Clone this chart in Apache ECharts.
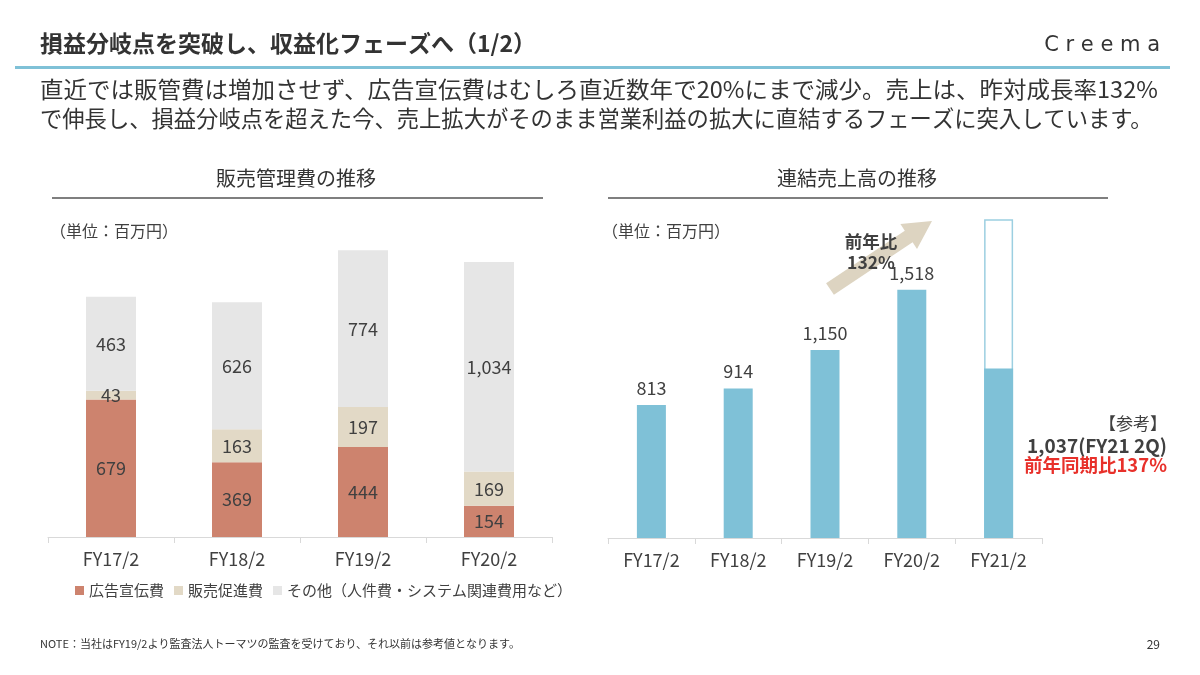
<!DOCTYPE html>
<html><head><meta charset="utf-8">
<script src="https://cdn.jsdelivr.net/npm/echarts@6/dist/echarts.min.js"></script>
<style>html,body{margin:0;padding:0;background:#fff}#c{width:1200px;height:675px}</style>
</head><body><div id="c"></div>
<script>
const FONT = '"Noto Sans CJK JP","Noto Sans",sans-serif';
const sgaCategories = ['FY17/2','FY18/2','FY19/2','FY20/2'];
const adValues = [679, 369, 444, 154];
const promoValues = [43, 163, 197, 169];
const otherValues = [463, 626, 774, 1034];
const salesCategories = ['FY17/2','FY18/2','FY19/2','FY20/2','FY21/2'];
const salesValues = [813, 914, 1150, 1518, 1037];
const salesFrame = [null, null, null, null, 1950];
const legendNames = ['広告宣伝費','販売促進費','その他（人件費・システム関連費用など）'];

const chart = echarts.init(document.getElementById('c'), null, {renderer:'canvas'});
const fmt = p => p.value.toLocaleString('en-US');
const labelStyle = {show:true, position:'inside', color:'#404040', fontSize:18, fontFamily:FONT, formatter:fmt};
const axisX = (idx, data) => ({
  type:'category', gridIndex:idx, data:data,
  axisLine:{lineStyle:{color:'#d9d9d9', width:1}},
  axisTick:{show:true, length:6, lineStyle:{color:'#d9d9d9'}},
  axisLabel:{color:'#404040', fontSize:18, fontFamily:FONT, margin:13}
});
const axisY = (idx, max) => ({type:'value', gridIndex:idx, min:0, max:max, show:false, splitLine:{show:false}});

chart.setOption({
  animation:false,
  backgroundColor:'#fff',
  textStyle:{fontFamily:FONT},
  grid:[
    {left:48, right:648, top:233, bottom:138},
    {left:608, right:158, top:211, bottom:137}
  ],
  xAxis:[axisX(0, sgaCategories), axisX(1, salesCategories)],
  yAxis:[axisY(0, 1500), axisY(1, 2000)],
  legend:{
    data:legendNames, left:70, top:578, itemWidth:9, itemHeight:9, itemGap:10,
    icon:'rect', textStyle:{color:'#404040', fontSize:15, fontFamily:FONT}
  },
  series:[
    {name:legendNames[0], type:'bar', stack:'s', xAxisIndex:0, yAxisIndex:0, barWidth:50,
     data:adValues, itemStyle:{color:'#CD836E'}, label:labelStyle},
    {name:legendNames[1], type:'bar', stack:'s', xAxisIndex:0, yAxisIndex:0, barWidth:50,
     data:promoValues, itemStyle:{color:'#E2D9C6'}, label:labelStyle},
    {name:legendNames[2], type:'bar', stack:'s', xAxisIndex:0, yAxisIndex:0, barWidth:50,
     data:otherValues, itemStyle:{color:'#E6E6E6'}, label:labelStyle},
    {name:'frame', type:'bar', xAxisIndex:1, yAxisIndex:1, barWidth:29, barGap:'-100%', z:1,
     data:salesFrame, itemStyle:{color:'#ffffff', borderColor:'#9ccfe1', borderWidth:1.5}, silent:true},
    {name:'sales', type:'bar', xAxisIndex:1, yAxisIndex:1, barWidth:29, z:2,
     data:salesValues, itemStyle:{color:'#7FC1D7'},
     label:{show:true, position:'top', distance:8, color:'#404040', fontSize:18, fontFamily:FONT,
       formatter:p => p.dataIndex === 4 ? '' : fmt(p)}}
  ],
  graphic:[
    {type:'text', left:40, top:32, style:{text:'損益分岐点を突破し、収益化フェーズへ（1/2）', fontSize:23, fontWeight:'bold', fill:'#333', fontFamily:FONT}},
    {type:'text', right:40, top:35, style:{text:'C r e e m a', fontSize:21, fill:'#333', fontFamily:'"DejaVu Sans",sans-serif'}},
    {type:'rect', shape:{x:15, y:66, width:1155, height:3}, style:{fill:'#7FC1D7'}},
    {type:'text', x:40, y:78, scaleX:1.05, style:{text:'直近では販管費は増加させず、広告宣伝費はむしろ直近数年で20%にまで減少。売上は、昨対成長率132%', fontSize:22.4, fill:'#333', fontFamily:FONT}},
    {type:'text', left:40, top:107, style:{text:'で伸長し、損益分岐点を超えた今、売上拡大がそのまま営業利益の拡大に直結するフェーズに突入しています。', fontSize:22.3, fill:'#333', fontFamily:FONT}},
    {type:'text', x:296, y:178, style:{text:'販売管理費の推移', fontSize:20, fill:'#333', fontFamily:FONT, align:'center', verticalAlign:'middle'}},
    {type:'rect', shape:{x:52, y:197, width:491, height:2}, style:{fill:'#7f7f7f'}},
    {type:'text', x:857, y:178, style:{text:'連結売上高の推移', fontSize:20, fill:'#333', fontFamily:FONT, align:'center', verticalAlign:'middle'}},
    {type:'rect', shape:{x:608, y:197, width:500, height:2}, style:{fill:'#7f7f7f'}},
    {type:'text', left:50, top:223, style:{text:'（単位：百万円）', fontSize:16, fill:'#404040', fontFamily:FONT}},
    {type:'text', left:602, top:223, style:{text:'（単位：百万円）', fontSize:16, fill:'#404040', fontFamily:FONT}},
    {type:'polygon', shape:{points:[[833.9,294.8],[912.6,242.3],[917,249],[932,221],[900.4,224],[904.8,230.7],[826.1,283.2]]}, style:{fill:'#DDD4C1'}, z:1},
    {type:'text', x:871, y:252, z:5, style:{text:'前年比\n132%', fontSize:17.5, fontWeight:'bold', fill:'#404040', fontFamily:FONT, align:'center', verticalAlign:'middle', lineHeight:21}},
    {type:'text', right:33, top:415, style:{text:'【参考】', fontSize:17, fill:'#404040', fontFamily:FONT, align:'right'}},
    {type:'text', right:33, top:436, style:{text:'1,037(FY21 2Q)', fontSize:19, fontWeight:'bold', fill:'#404040', fontFamily:FONT, align:'right'}},
    {type:'text', right:33, top:456, style:{text:'前年同期比137%', fontSize:18.5, fontWeight:'bold', fill:'#E8302A', fontFamily:FONT, align:'right'}},
    {type:'text', left:40, top:638, style:{text:'NOTE：当社はFY19/2より監査法人トーマツの監査を受けており、それ以前は参考値となります。', fontSize:11, fill:'#333', fontFamily:FONT}},
    {type:'text', right:40, top:638, style:{text:'29', fontSize:12, fill:'#333', fontFamily:FONT}}
  ]
});
</script></body></html>
